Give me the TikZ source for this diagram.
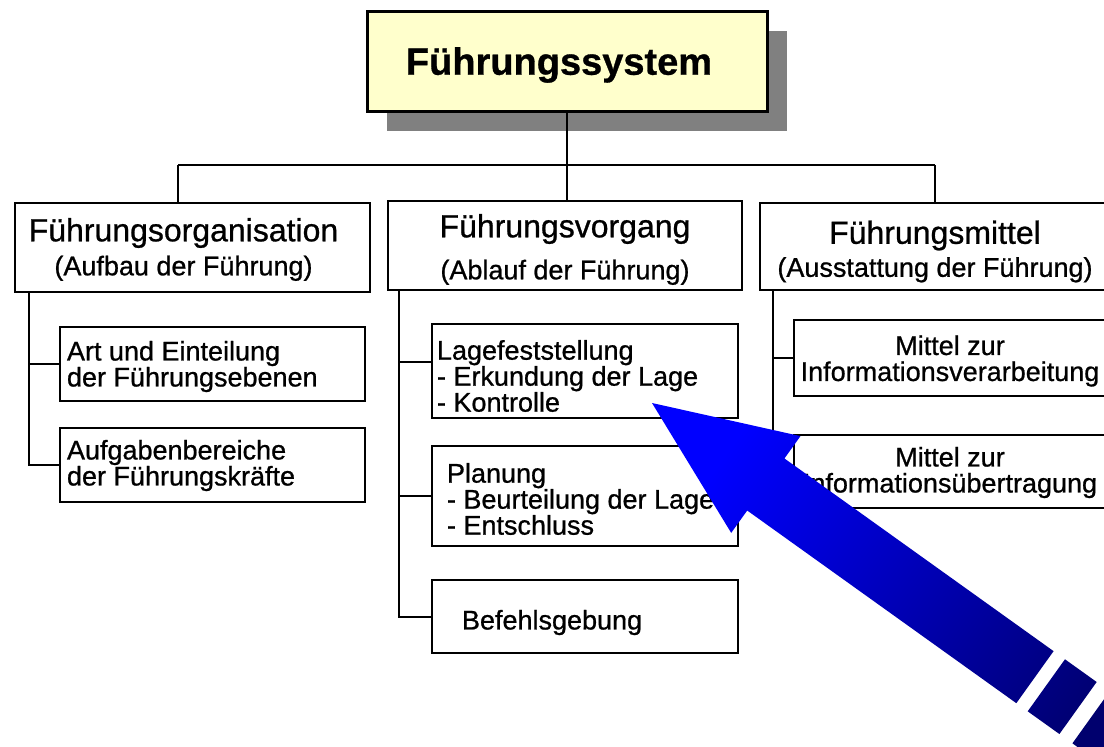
\documentclass[tikz,border=0pt]{standalone}
\usepackage{fontspec}
\setmainfont{Liberation Sans}[FakeBold=0.8]
\usetikzlibrary{calc}
\definecolor{topyellow}{RGB}{255,255,204}
\definecolor{shadowgray}{RGB}{128,128,128}
\definecolor{arrowdark}{RGB}{0,0,110}
\definecolor{arrowblue}{RGB}{0,0,255}
\begin{document}
\begin{tikzpicture}[x=1pt,y=-1pt,
  box/.style={draw=black, line width=2.4pt, fill=white, inner sep=0pt},
  conn/.style={draw=black, line width=2pt},
  txt/.style={inner sep=0pt, align=left, font=\fontsize{27}{26}\selectfont},
  ctxt/.style={inner sep=0pt, align=center, font=\fontsize{27}{26}\selectfont}
]
\useasboundingbox (0,0) rectangle (1104,747);
\clip (0,0) rectangle (1104,747);
\fill[white] (0,0) rectangle (1104,747);

% top box with shadow
\fill[shadowgray] (387,31) rectangle (787,131);
\node[draw=black, line width=3pt, fill=topyellow, minimum width=400pt, minimum height=100pt,
      inner sep=0pt] (top) at (567,61) {};
\node[inner sep=0pt, font=\fontsize{38}{40}\selectfont\bfseries] (topt) at ($(top.center)+(-8,4)$) {Führungssystem};

% second level
\node[box, minimum width=355pt, minimum height=89pt] (L) at (192.5,247.5) {};
\node[ctxt, font=\fontsize{32}{34}\selectfont] (Lt) at ($(L.center)+(-9,2)$)
  {Führungsorganisation\\{\fontsize{27}{30}\selectfont (Aufbau der Führung)}};
\node[box, minimum width=354pt, minimum height=89pt] (M) at (565,245.5) {};
\node[ctxt, font=\fontsize{32}{42}\selectfont] (Mt) at ($(M.center)+(0,4)$)
  {Führungsvorgang\\{\fontsize{27}{30}\selectfont (Ablauf der Führung)}};
\node[box, minimum width=354pt, minimum height=87pt] (R) at (937,246.5) {};
\node[ctxt, font=\fontsize{32}{33}\selectfont] (Rt) at ($(R.center)+(-2,5)$)
  {Führungsmittel\\{\fontsize{27}{30}\selectfont (Ausstattung der Führung)}};

% third level, left
\node[box, minimum width=305pt, minimum height=74pt] (A1) at (212.5,364) {};
\node[txt, anchor=west] (A1t) at ($(A1.west)+(8,2.5)$) {Art und Einteilung\\der Führungsebenen};
\node[box, minimum width=305pt, minimum height=74pt] (A2) at (212.5,465) {};
\node[txt, anchor=west] (A2t) at ($(A2.west)+(8,0.5)$) {Aufgabenbereiche\\der Führungskräfte};

% third level, middle
\node[box, minimum width=306pt, minimum height=94pt] (B1) at (585,371) {};
\node[txt, anchor=west] (B1t) at ($(B1.west)+(6,5)$) {Lagefeststellung\\- Erkundung der Lage\\- Kontrolle};
\node[box, minimum width=306pt, minimum height=100pt] (B2) at (585,496) {};
\node[txt, anchor=west] (B2t) at ($(B2.west)+(16,3)$) {Planung\\- Beurteilung der Lage\\- Entschluss};
\node[box, minimum width=306pt, minimum height=73pt] (B3) at (585,616.5) {};
\node[txt, anchor=west] (B3t) at ($(B3.west)+(31,6)$) {Befehlsgebung};

% third level, right
\node[box, minimum width=312pt, minimum height=76pt] (C1) at (950,358) {};
\node[ctxt] (C1t) at ($(C1.center)+(0,3)$) {Mittel zur\\Informationsverarbeitung};
\node[box, minimum width=312pt, minimum height=73pt] (C2) at (950,471.5) {};
\node[ctxt] (C2t) at ($(C2.center)+(0,1)$) {Mittel zur\\Informationsübertragung};

% connectors from the top box
\coordinate (busL) at (178,165);
\coordinate (busR) at (935,165);
\draw[conn] (busL) -- (busR);
\draw[conn] (top.south) -- (top.south |- M.north);
\draw[conn] (busL) -- (busL |- L.north);
\draw[conn] (busR) -- (busR |- R.north);

% left column
\coordinate (lv) at (29,292);
\draw[conn] (lv |- L.south) |- (A2.west);
\draw[conn] (lv |- A1.west) -- (A1.west);

% middle column
\coordinate (mv) at (399,290);
\draw[conn] (mv |- M.south) |- (B3.west);
\draw[conn] (mv |- 0,362) -- (B1.west |- 0,362);
\draw[conn] (mv |- B2.west) -- (B2.west);

% right column
\coordinate (rv) at (773,290);
\draw[conn] (rv |- R.south) |- (C2.west);
\draw[conn] (rv |- C1.west) -- (C1.west);

% big blue arrow
\begin{scope}[shift={(652,403)}, rotate=-35.6]
  \coordinate (t0) at (0,0);
  \coordinate (h1) at (140,-59.5);
  \coordinate (n1) at (140,-32);
  \coordinate (s1) at (471,-32);
  \coordinate (s2) at (471,32);
  \coordinate (n2) at (140,32);
  \coordinate (h2) at (140,59.5);
  \coordinate (b1a) at (485,-32);
  \coordinate (b1b) at (524,-32);
  \coordinate (b1c) at (524,32);
  \coordinate (b1d) at (485,32);
  \coordinate (b2a) at (540,-32);
  \coordinate (b2b) at (600,-32);
  \coordinate (b2c) at (600,32);
  \coordinate (b2d) at (540,32);
\end{scope}
\shade[top color=arrowblue, bottom color=arrowdark, shading angle=54.4]
  (t0) -- (h1) -- (n1) -- (s1) -- (s2) -- (n2) -- (h2) -- cycle
  (b1a) -- (b1b) -- (b1c) -- (b1d) -- cycle
  (b2a) -- (b2b) -- (b2c) -- (b2d) -- cycle;
\end{tikzpicture}
\end{document}
